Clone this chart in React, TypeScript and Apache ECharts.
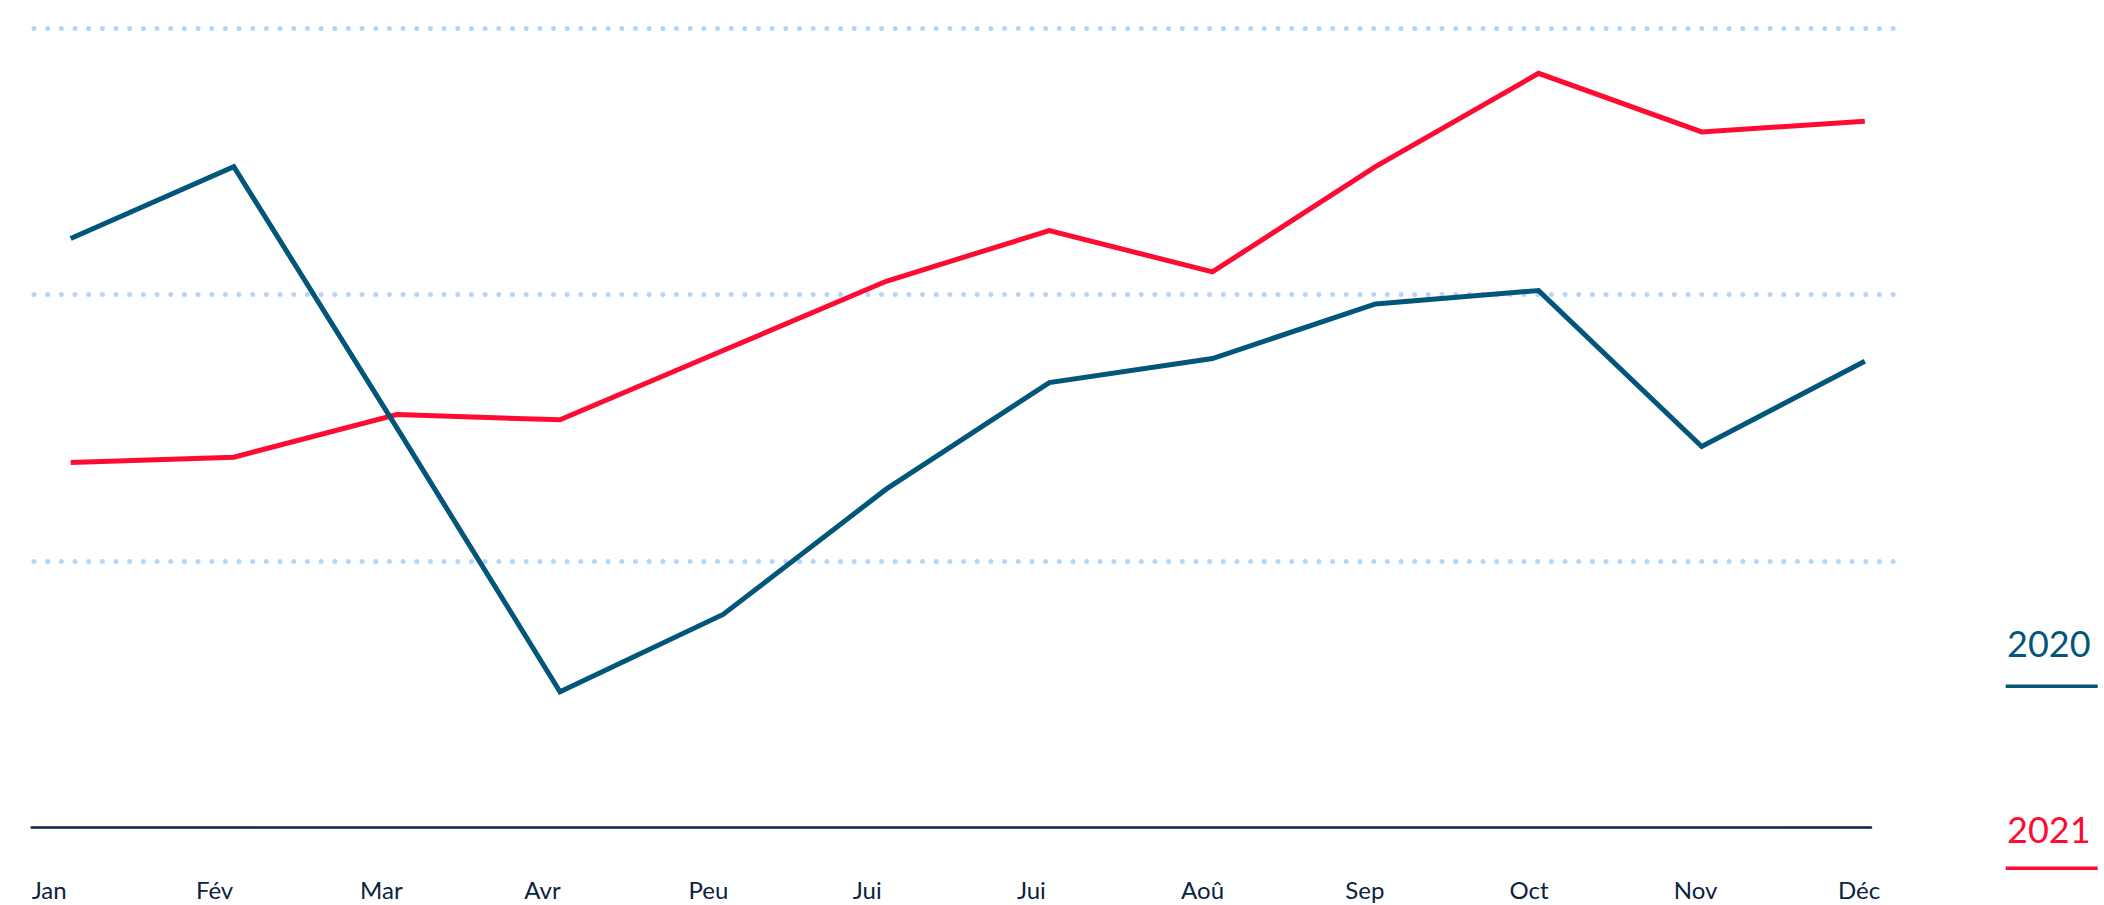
import React, { useEffect, useRef } from "react";
import * as echarts from "echarts";

const months = ["Jan", "Fév", "Mar", "Avr", "Peu", "Jui", "Jui", "Aoû", "Sep", "Oct", "Nov", "Déc"];
const seriesNames = ["2020", "2021"];
const values2020 = [2.21, 2.48, 1.5, 0.51, 0.8, 1.27, 1.67, 1.76, 1.965, 2.015, 1.43, 1.75];
const values2021 = [1.37, 1.39, 1.55, 1.53, 1.79, 2.05, 2.24, 2.085, 2.48, 2.83, 2.61, 2.65];
const gridValues = [1, 2, 3];

const BLUE = "#02567a";
const RED = "#ff0a31";
const NAVY = "#0b2341";
const DOT = "#b4d5f7";
const FONT = "Lato";

export default function App() {
  const ref = useRef<HTMLDivElement>(null);
  useEffect(() => {
    if (!ref.current) return;
    const chart = echarts.init(ref.current, undefined, { renderer: "svg" });
    const H = 905;
    const W = 2104;
    const option: any = {
      animation: false,
      backgroundColor: "#ffffff",
      grid: [
        { left: 34, right: W - 1898, top: 28, bottom: H - 561 },
        { left: 70.7, right: 239.2, top: 28, bottom: 77.3 },
        { left: 31.7, right: 266.1, top: 28, bottom: 77.3 },
        { left: 31.7, right: 233, top: 28, bottom: 77.3 },
      ],
      xAxis: [
        { type: "value", gridIndex: 0, show: false },
        { type: "category", gridIndex: 1, data: months, boundaryGap: false, show: false },
        {
          type: "category",
          gridIndex: 2,
          data: months,
          boundaryGap: false,
          axisLine: { show: false },
          axisTick: { show: false },
          splitLine: { show: false },
          axisLabel: {
            align: "left",
            verticalAlign: "middle",
            margin: 62,
            color: NAVY,
            fontFamily: FONT,
            fontSize: 24,
            interval: 0,
          },
        },
        {
          type: "value",
          gridIndex: 3,
          axisLine: { show: true, onZero: false, lineStyle: { color: NAVY, width: 2.5 } },
          axisTick: { show: false },
          axisLabel: { show: false },
          splitLine: { show: false },
        },
      ],
      yAxis: [
        {
          type: "value",
          gridIndex: 0,
          min: gridValues[0],
          max: gridValues[gridValues.length - 1],
          interval: 1,
          axisLine: { show: false },
          axisTick: { show: false },
          axisLabel: { show: false },
          splitLine: {
            show: true,
            lineStyle: { color: DOT, width: 5, type: [0, 13.67], cap: "round" },
          },
        },
        { type: "value", gridIndex: 1, min: 0, max: 3, show: false },
        { type: "value", gridIndex: 2, min: 0, max: 3, show: false },
        { type: "value", gridIndex: 3, min: 0, max: 3, show: false },
      ],
      series: [
        {
          name: seriesNames[1],
          type: "line",
          xAxisIndex: 1,
          yAxisIndex: 1,
          data: values2021,
          symbol: "none",
          lineStyle: { color: RED, width: 5, join: "miter" },
        },
        {
          name: seriesNames[0],
          type: "line",
          xAxisIndex: 1,
          yAxisIndex: 1,
          data: values2020,
          symbol: "none",
          lineStyle: { color: BLUE, width: 5, join: "miter" },
        },
      ],
      graphic: [
        {
          type: "text",
          left: 2007,
          top: 625,
          style: { text: seriesNames[0], fill: BLUE, font: `36px ${FONT}` },
        },
        { type: "rect", shape: { x: 2005.7, y: 684.5, width: 92, height: 3.5 }, style: { fill: BLUE } },
        {
          type: "text",
          left: 2007,
          top: 811,
          style: { text: seriesNames[1], fill: RED, font: `36px ${FONT}` },
        },
        { type: "rect", shape: { x: 2005.7, y: 866.5, width: 92, height: 3.5 }, style: { fill: RED } },
      ],
    };
    chart.setOption(option);
    return () => chart.dispose();
  }, []);
  return (
    <div
      ref={ref}
      style={{ position: "absolute", left: 0, top: 0, width: 2104, height: 905, background: "#fff" }}
    />
  );
}
